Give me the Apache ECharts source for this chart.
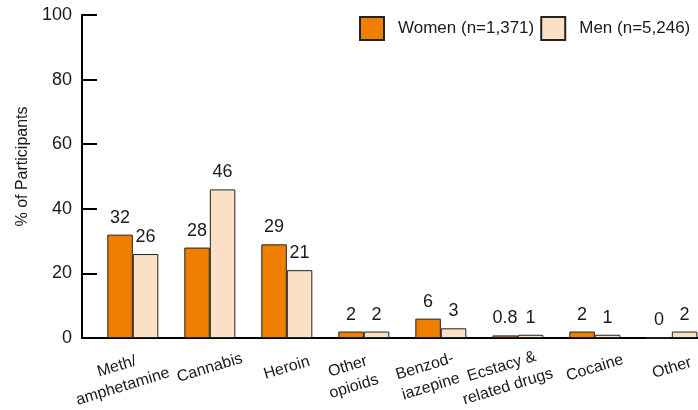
<!DOCTYPE html>
<html>
<head>
<meta charset="utf-8">
<script src="https://cdn.jsdelivr.net/npm/echarts@6/dist/echarts.min.js"></script>
<style>html,body{margin:0;padding:0;background:#fff;}#c{width:698px;height:410px;}</style>
</head>
<body>
<div id="c"></div>
<script>
const categories = ['Meth/\namphetamine', 'Cannabis', 'Heroin', 'Other\nopioids', 'Benzod-\niazepine', 'Ecstacy &\nrelated drugs', 'Cocaine', 'Other'];
const women = [32, 28, 29, 2, 6, 0.8, 2, 0];
const men = [26, 46, 21, 2, 3, 1, 1, 2];
const seriesNames = ['Women (n=1,371)', 'Men (n=5,246)'];
const yTicks = [0, 20, 40, 60, 80, 100];

const FONT = 'Liberation Sans, Arial, sans-serif';
const TXT = '#1a1a1a';
const chart = echarts.init(document.getElementById('c'), null, {renderer: 'canvas'});
const labelOpt = {
  show: true, position: 'top', distance: 8,
  fontFamily: FONT, fontSize: 18, color: TXT,
  formatter: p => String(p.value[1])
};
const X_MIN = -0.66, X_MAX = 7.34;
// blank end labels so that ECharts' min/max overlap check never hides a real category label
const labelValues = [X_MIN + 0.02].concat(categories.map((c, i) => i), [X_MAX - 0.02]);
const pairs = arr => arr.map((v, i) => [i, v]);
// multi-line category labels sit a little lower and to the left, as in the reference
const catFormatter = v => {
  if (!Number.isInteger(v)) return '';
  const c = categories[v];
  if (c === undefined) return '';
  const lines = c.split('\n');
  if (lines.length === 1) return c;
  return '{s| }\n' + lines.map(l => '{m|' + l + '}').join('\n');
};
const richBase = {fontFamily: FONT, fontSize: 16, color: TXT, lineHeight: 21};
chart.setOption({
  animation: false,
  backgroundColor: '#fff',
  legend: {
    orient: 'horizontal', left: 359, top: 16, width: 339, padding: 0,
    icon: 'rect', itemWidth: 24, itemHeight: 23, itemGap: 6,
    textStyle: {fontFamily: FONT, fontSize: 17, color: TXT, padding: [0, 0, 0, 9]},
    data: seriesNames
  },
  grid: {left: 82, top: 15, right: 0, height: 323, outerBoundsMode: 'none', containLabel: false},
  xAxis: {
    type: 'value', min: X_MIN, max: X_MAX,
    axisLine: {show: true, onZero: false, lineStyle: {color: '#000', width: 2}},
    axisTick: {show: false}, splitLine: {show: false},
    axisLabel: {
      customValues: labelValues, formatter: catFormatter,
      showMinLabel: true, showMaxLabel: true, hideOverlap: false,
      rotate: 17, align: 'center', verticalAlign: 'middle', margin: 30,
      fontFamily: FONT, fontSize: 16, color: TXT, lineHeight: 19,
      rich: {
        s: {fontFamily: FONT, fontSize: 4, lineHeight: 9},
        m: Object.assign({padding: [0, 30, 0, 0]}, richBase)
      }
    }
  },
  yAxis: {
    type: 'value', min: yTicks[0], max: yTicks[yTicks.length - 1], interval: 20,
    name: '% of Participants', nameLocation: 'middle', nameGap: 51, nameRotate: 90,
    nameTextStyle: {fontFamily: FONT, fontSize: 16, color: TXT, padding: [0, 0, 0, 20]},
    axisLine: {show: true, onZero: false, lineStyle: {color: '#000', width: 2}},
    axisTick: {show: true, inside: true, length: 15, lineStyle: {color: '#000', width: 2}},
    axisLabel: {margin: 10, fontFamily: FONT, fontSize: 18, color: TXT},
    splitLine: {show: false}
  },
  series: [
    {
      name: seriesNames[0], type: 'bar',
      data: pairs(women), barWidth: 25.5, barGap: '0%',
      itemStyle: {color: '#EE7F00', borderColor: '#222', borderWidth: 1},
      label: labelOpt
    },
    {
      name: seriesNames[1], type: 'bar',
      data: pairs(men), barWidth: 25.5, barGap: '0%',
      itemStyle: {color: '#FCE0C5', borderColor: '#222', borderWidth: 1},
      label: labelOpt
    }
  ]
});
</script>
</body>
</html>
